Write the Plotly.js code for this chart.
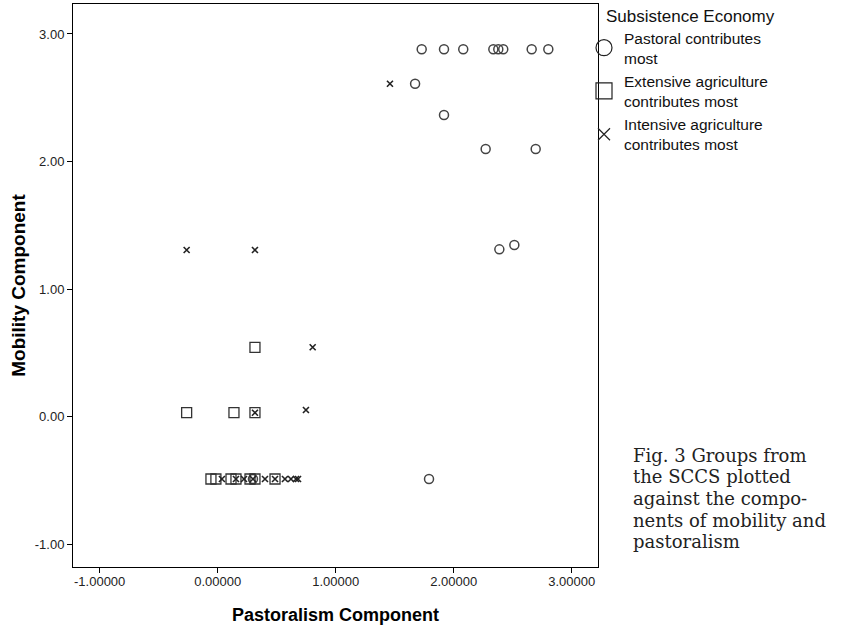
<!DOCTYPE html>
<html>
<head>
<meta charset="utf-8">
<script src="https://cdn.plot.ly/plotly-3.0.1.min.js"></script>
<style>html,body{margin:0;padding:0;background:#fff;}#chart{width:852px;height:632px;}</style>
</head>
<body>
<div id="chart"></div>
<script>
// Pastoral contributes most
var pastoralX = [1.729, 1.918, 2.081, 2.336, 2.378, 2.420, 2.661, 2.802, 1.673, 1.918, 2.271, 2.695, 2.387, 2.514, 1.791, 0.299];
var pastoralY = [2.88, 2.88, 2.88, 2.88, 2.88, 2.88, 2.88, 2.88, 2.61, 2.365, 2.098, 2.098, 1.311, 1.345, -0.49, -0.49];
// Extensive agriculture contributes most
var extensiveX = [0.316, -0.263, 0.138, 0.316, -0.057, -0.015, 0.113, 0.155, 0.274, 0.316, 0.486];
var extensiveY = [0.543, 0.03, 0.03, 0.03, -0.49, -0.49, -0.49, -0.49, -0.49, -0.49, -0.49];
// Intensive agriculture contributes most
var intensiveX = [1.46, -0.263, 0.316, 0.805, 0.316, 0.748, 0.036, 0.155, 0.223, 0.299, 0.401, 0.486, 0.570, 0.621, 0.664, 0.681];
var intensiveY = [2.61, 1.306, 1.306, 0.543, 0.03, 0.051, -0.49, -0.49, -0.49, -0.49, -0.49, -0.49, -0.49, -0.49, -0.49, -0.49];

var groupNames = ["Pastoral contributes<br>most", "Extensive agriculture<br>contributes most", "Intensive agriculture<br>contributes most"];
var legendTitle = "Subsistence Economy";
var xTitle = "Pastoralism Component";
var yTitle = "Mobility Component";
var xTickVals = [-1, 0, 1, 2, 3];
var xTickText = ["-1.00000", "0.00000", "1.00000", "2.00000", "3.00000"];
var yTickVals = [-1, 0, 1, 2, 3];
var yTickText = ["-1.00", "0.00", "1.00", "2.00", "3.00"];
var captionLines = ["Fig. 3 Groups from", "the SCCS plotted", "against the compo-", "nents of mobility and", "pastoralism"];

var sans = "Liberation Sans, Arial, sans-serif";
var mk = [
  {symbol: "circle-open", size: 9, line: {width: 1.5, color: "#444"}, color: "#444"},
  {symbol: "square-open", size: 10, line: {width: 1.3, color: "#333"}, color: "#333"},
  {symbol: "x-thin-open", size: 6, line: {width: 1.6, color: "#222"}, color: "#222"}
];
var legMk = [
  {symbol: "circle-open", size: 16, line: {width: 1.2, color: "#222"}, color: "#222"},
  {symbol: "square-open", size: 16, line: {width: 1.2, color: "#222"}, color: "#222"},
  {symbol: "x-thin-open", size: 12, line: {width: 1.2, color: "#222"}, color: "#222"}
];
var xs = [pastoralX, extensiveX, intensiveX];
var ys = [pastoralY, extensiveY, intensiveY];
var data = [];
for (var i = 0; i < 3; i++) {
  data.push({type: "scatter", mode: "markers", x: xs[i], y: ys[i], marker: mk[i], showlegend: false, hoverinfo: "x+y"});
}
for (var i = 0; i < 3; i++) {
  data.push({type: "scatter", mode: "markers", x: [null], y: [null], marker: legMk[i], name: groupNames[i], showlegend: true});
}

var L = 73, R = 254, T = 4, B = 65, W = 852, H = 632;
var pw = W - L - R, ph = H - T - B;
function px2x(p){ return (p - L) / pw; }
function py2y(p){ return 1 - (p - T) / ph; }

var annotations = [{
  xref: "paper", yref: "paper", x: px2x(604), y: py2y(17), xanchor: "left", yanchor: "middle",
  text: legendTitle, showarrow: false, font: {family: sans, size: 17, color: "#111"}
}];
for (var k = 0; k < captionLines.length; k++) {
  annotations.push({
    xref: "paper", yref: "paper", x: px2x(631), y: py2y(455 + k * 21.7), xanchor: "left", yanchor: "middle",
    text: captionLines[k], showarrow: false, font: {family: "DejaVu Serif, Liberation Serif, serif", size: 18, color: "#222"}
  });
}

var layout = {
  width: W, height: H,
  margin: {l: L, r: R, t: T, b: B, pad: 0},
  paper_bgcolor: "#fff", plot_bgcolor: "#fff",
  showlegend: true,
  legend: {x: px2x(584), y: py2y(21), xanchor: "left", yanchor: "top", bgcolor: "rgba(0,0,0,0)",
           font: {family: sans, size: 15.5, color: "#111"}, itemsizing: "trace", tracegroupgap: 0},
  xaxis: {range: [-1.226, 3.223], tickvals: xTickVals, ticktext: xTickText, showgrid: false, zeroline: false,
          showline: true, mirror: true, linecolor: "#000", linewidth: 1, ticks: "outside", ticklen: 5, tickcolor: "#000",
          ticklabelstandoff: -3,
          tickfont: {family: sans, size: 13, color: "#222"},
          title: {text: xTitle, font: {family: sans, size: 18, color: "#000", weight: "bold"}, standoff: 20}},
  yaxis: {range: [-1.18, 3.235], tickvals: yTickVals, ticktext: yTickText, showgrid: false, zeroline: false,
          showline: true, mirror: true, linecolor: "#000", linewidth: 1, ticks: "outside", ticklen: 5, tickcolor: "#000",
          tickfont: {family: sans, size: 13, color: "#222"},
          title: {text: yTitle, font: {family: sans, size: 19, color: "#000", weight: "bold"}, standoff: 4}},
  annotations: annotations
};
Plotly.newPlot("chart", data, layout, {displayModeBar: false, staticPlot: true});
</script>
</body>
</html>
